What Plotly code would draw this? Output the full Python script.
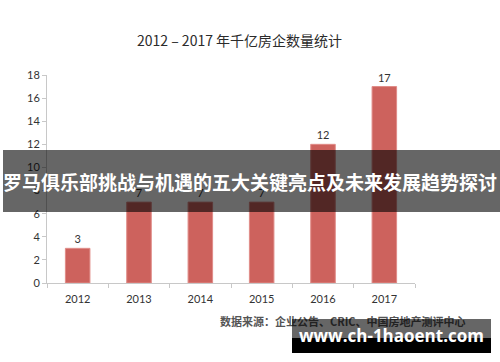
import plotly.graph_objects as go

years = ["2012", "2013", "2014", "2015", "2016", "2017"]
counts = [3, 7, 7, 7, 12, 17]
y_ticks = [0, 2, 4, 6, 8, 10, 12, 14, 16, 18]

title_text = "2012 – 2017 年千亿房企数量统计"
banner_text = "罗马俱乐部挑战与机遇的五大关键亮点及未来发展趋势探讨"
source_text = "数据来源：企业公告、CRIC、中国房地产测评中心"
watermark_text = "www.ch-1haoent.com"

W, H = 500, 362
L, R, T, B = 47, 85, 75, 79
PW, PH = W - L - R, H - T - B

def px(x):
    return (x - L) / PW

def py(y):
    return (H - B - y) / PH

tick_font = dict(family="Lato, 'Open Sans', sans-serif", size=11, color="#333333")
cjk = "'Noto Sans CJK SC', sans-serif"

fig = go.Figure(go.Bar(
    x=years, y=counts,
    marker=dict(color="#CD625D", line=dict(color="#E08C88", width=1)),
    width=0.4,
    text=[str(c) for c in counts], textposition="outside",
    textfont=tick_font, cliponaxis=False,
))

fig.update_layout(
    width=W, height=H,
    margin=dict(l=L, r=R, t=T, b=B),
    plot_bgcolor="white", paper_bgcolor="white",
    showlegend=False,
    xaxis=dict(
        showline=True, linecolor="#C8C8C8", linewidth=1,
        ticks="outside", tickson="boundaries", ticklen=4, tickcolor="#C8C8C8",
        tickfont=tick_font, showgrid=False, ticklabelstandoff=6,
    ),
    yaxis=dict(
        range=[0, 18], tickvals=y_ticks,
        showline=True, linecolor="#C8C8C8", linewidth=1,
        ticks="outside", ticklen=4, tickcolor="#C8C8C8",
        tickfont=tick_font, showgrid=False, zeroline=False,
    ),
)

shapes = [
    dict(type="rect", xref="paper", yref="paper", layer="above",
         x0=px(3), x1=px(500), y0=py(212), y1=py(150),
         fillcolor="rgba(0,0,0,0.6)", line=dict(width=0)),
]
fig.update_layout(shapes=shapes)

ann = []
ann.append(dict(text=title_text, xref="paper", yref="paper", x=px(239), y=py(40),
                showarrow=False, xanchor="center", yanchor="middle",
                font=dict(family=cjk, size=14, color="#2b2b2b")))
ann.append(dict(text="<b>" + banner_text + "</b>", xref="paper", yref="paper",
                x=px(250), y=py(181), showarrow=False, xanchor="center", yanchor="middle",
                font=dict(family=cjk, size=19, color="white")))
ann.append(dict(text="<b>" + source_text + "</b>", xref="paper", yref="paper", x=px(343), y=py(321),
                showarrow=False, xanchor="center", yanchor="middle",
                font=dict(family=cjk, size=11, color="#555555")))
# watermark blocks
ann.append(dict(text=" ", xref="paper", yref="paper", x=px(292), y=py(319),
                xanchor="left", yanchor="top", showarrow=False,
                width=199, height=19, borderpad=0, borderwidth=0,
                bgcolor="rgba(0,0,0,0.6)", font=dict(size=1)))
ann.append(dict(text=" ", xref="paper", yref="paper", x=px(292), y=py(338),
                xanchor="left", yanchor="top", showarrow=False,
                width=199, height=15, borderpad=0, borderwidth=0,
                bgcolor="black", font=dict(size=1)))
ann.append(dict(text="<b>" + watermark_text + "</b>", xref="paper", yref="paper",
                x=px(391), y=py(335), showarrow=False, xanchor="center", yanchor="middle",
                font=dict(family="'Open Sans', sans-serif", size=17, color="white")))
fig.update_layout(annotations=ann)

fig.write_html("out.html")
